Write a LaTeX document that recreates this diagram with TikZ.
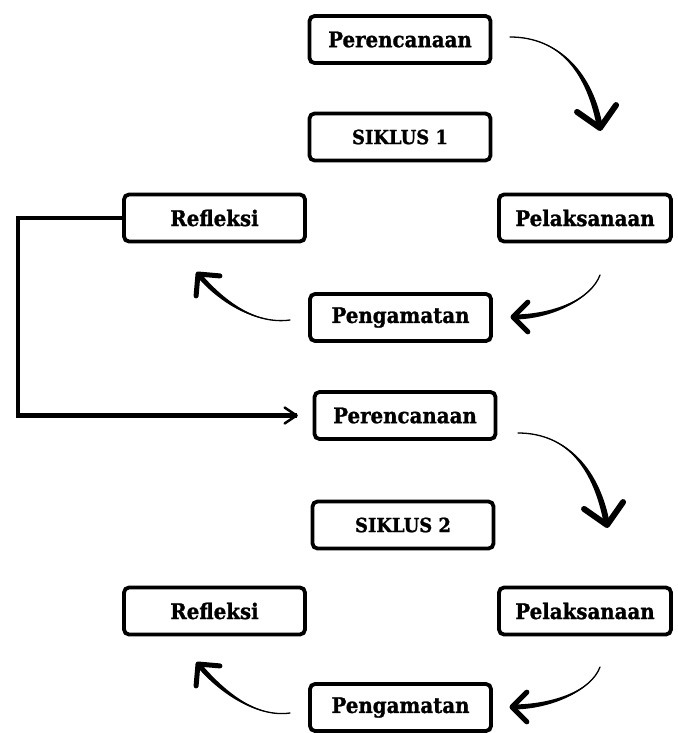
\documentclass[tikz,border=0pt]{standalone}
\usepackage{fontspec}
\setmainfont{DejaVu Serif}[FakeStretch=0.92, BoldFeatures={FakeBold=1.2}]
\usetikzlibrary{calc}
\tikzset{
  box/.style={draw, line width=3.8pt, rounded corners=5pt, minimum width=181pt,
    minimum height=47pt, inner sep=0pt, font=\bfseries\fontsize{21.5}{24}\selectfont},
  sbox/.style={box, font=\bfseries\fontsize{19.5}{22}\selectfont},
  wbox/.style={box, minimum width=172pt},
}
% #1 start, #2 end, #3 out angle, #4 in angle, #5 d1, #6 d2, #7 end width, #8 head arm length
\newcommand{\taparrow}[8]{%
  \fill (#1) .. controls ($(#1)+(#3:#5)$) and ($(#2)+(#4:#6)+({#4+90}:#7/2)$) ..
    ($(#2)+({#4+90}:#7/2)$) -- ($(#2)+({#4-90}:#7/2)$) ..
    controls ($(#2)+(#4:#6)+({#4-90}:#7/2)$) and ($(#1)+(#3:#5)$) .. (#1) -- cycle;
  \draw[line width=1.3pt, line cap=round] (#1) .. controls ($(#1)+(#3:#5)$) and ($(#2)+(#4:#6)$) .. (#2);
  \draw[line width=#7pt, line cap=round, line join=round]
    ($(#2)+({#4+45}:#8)$) -- (#2) -- ($(#2)+({#4-45}:#8)$);
}
\begin{document}
\begin{tikzpicture}[x=1pt,y=1pt]
\useasboundingbox[fill=white] (0,0) rectangle (677,-733);
% cycle 1
\node[box]  (P1) at (400,-39.5) {Perencanaan};
\node[sbox] (S1) at (400,-137) {SIKLUS 1};
\node[box]  (R1) at (214.5,-218) {Refleksi};
\node[wbox] (L1) at (585,-218) {Pelaksanaan};
\node[box]  (G1) at (400.5,-317.5) {Pengamatan};
% cycle 2
\node[box]  (P2) at (405,-415.5) {Perencanaan};
\node[sbox] (S2) at (403,-525) {SIKLUS 2};
\node[box]  (R2) at (214.5,-611) {Refleksi};
\node[wbox] (L2) at (585,-611) {Pelaksanaan};
\node[box]  (G2) at (400.5,-707.5) {Pengamatan};
% arrow end points
\coordinate (a1s) at (510,-37);  \coordinate (a1e) at (600,-128);
\coordinate (b1s) at (600,-275); \coordinate (b1e) at (513,-317);
\coordinate (c1s) at (290,-320); \coordinate (c1e) at (198,-274);
\coordinate (a2s) at (518,-433); \coordinate (a2e) at (607,-525);
\coordinate (b2s) at (600,-667); \coordinate (b2e) at (512,-707);
\coordinate (c2s) at (290,-713); \coordinate (c2e) at (198,-664);
\taparrow{a1s}{a1e}{0}{100}{50}{55}{6}{28}
\taparrow{b1s}{b1e}{-110}{0}{25}{40}{5}{21}
\taparrow{c1s}{c1e}{188}{-50}{35}{35}{5}{22}
\taparrow{a2s}{a2e}{0}{100}{50}{55}{6}{28}
\taparrow{b2s}{b2e}{-110}{0}{25}{40}{5}{21}
\taparrow{c2s}{c2e}{188}{-50}{35}{35}{5}{22}
% elbow connector
\coordinate (elb) at (18,-218);
\draw[line width=4.5pt] (R1.west) -- (elb) |- ($(P2.west)+(-16,0)$);
\draw[line width=2.5pt, line cap=round, line join=round]
  ($(P2.west)+(-28,8)$) -- ($(P2.west)+(-16,0)$) -- ($(P2.west)+(-28,-8)$);
\end{tikzpicture}
\end{document}
